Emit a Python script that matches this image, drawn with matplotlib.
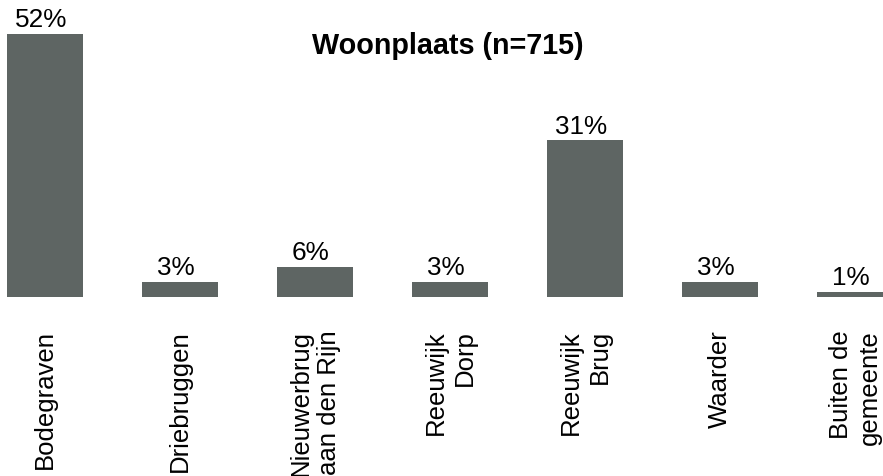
import matplotlib.pyplot as plt

plt.rcParams["font.family"] = ["Liberation Sans", "DejaVu Sans"]

categories = ["Bodegraven", "Driebruggen", "Nieuwerbrug\naan den Rijn", "Reeuwijk\nDorp",
              "Reeuwijk\nBrug", "Waarder", "Buiten de\ngemeente"]
percentages = [52, 3, 6, 3, 31, 3, 1]
title = "Woonplaats (n=715)"

bar_color = "#5e6563"

fig = plt.figure(figsize=(8.83, 4.77), dpi=100)
ax = fig.add_axes([0, 0.3753, 1, 0.6247])

x = list(range(len(categories)))
bars = ax.bar(x, percentages, width=0.563, color=bar_color)

for xi, v in zip(x, percentages):
    ax.annotate(f"{v}%", (xi, v), xytext=(-3, 5.5), textcoords="offset points",
                ha="center", va="baseline", fontsize=18.8)

ax.set_xlim(-0.333, 6.207)
ax.set_ylim(0, 58.9)
ax.set_xticks(x)
ax.set_xticklabels(categories, rotation=90, fontsize=18.5, linespacing=1.25)
for lbl in ax.get_xticklabels():
    lbl.set_multialignment("right")
ax.tick_params(axis="x", length=0, pad=23)
ax.set_yticks([])
for s in ax.spines.values():
    s.set_visible(False)

fig.text(0.507, 0.887, title, ha="center", va="baseline", fontsize=20.7, fontweight="bold")

fig.savefig("out.png", dpi=100)
